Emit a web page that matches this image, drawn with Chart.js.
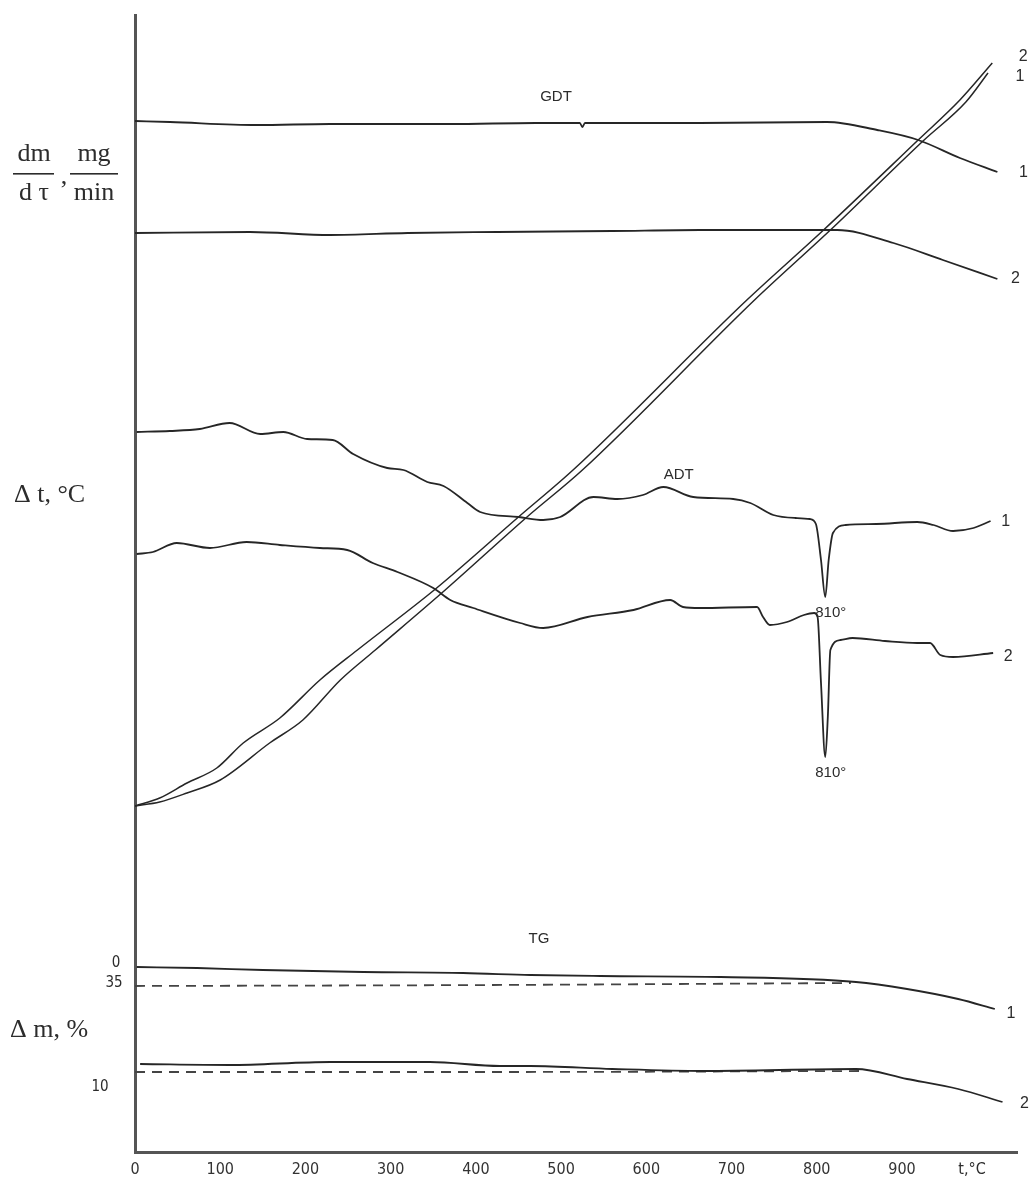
<!DOCTYPE html>
<html>
<head>
<meta charset="utf-8">
<script src="https://cdn.jsdelivr.net/npm/chart.js@4.4.1/dist/chart.umd.min.js"></script>
<style>
html,body{margin:0;padding:0;background:#fff;}
#wrap{position:relative;width:1035px;height:1182px;}
canvas{display:block;}
</style>
</head>
<body>
<div id="wrap"><canvas id="c" width="1035" height="1182"></canvas></div>
<script>
// Derivatogram of samples 1 and 2: heating curves, GDT, ADT and TG traces.
// Temperatures in °C, trace values in relative chart units.
const tickTemps = [0, 100, 200, 300, 400, 500, 600, 700, 800, 900];
const peakTemp = 810;

// heating curves
const heatT1 = [0, 29, 61, 100, 158, 197, 241, 282, 364, 460, 525, 727, 816, 926, 975, 1001];
const heatV1 = [346, 350, 359, 372, 409, 432, 472, 502, 562, 635, 682, 852, 922, 1012, 1050, 1079];
const heatT2 = [0, 29, 61, 96, 127, 170, 217, 261, 354, 450, 514, 718, 808, 919, 968, 1006];
const heatV2 = [346, 354, 369, 384, 409, 434, 472, 502, 564, 635, 682, 852, 922, 1012, 1052, 1089];

// GDT
const gdtT1 = [0, 41, 143, 229, 370, 470, 522, 525, 528, 600, 663, 812, 871, 919, 968, 1012];
const gdtV1 = [1031, 1030, 1027, 1028, 1028, 1029, 1029, 1025, 1029, 1029, 1029, 1030, 1022, 1012, 994, 980];
const gdtT2 = [0, 135, 229, 320, 425, 560, 663, 824, 890, 948, 1012];
const gdtV2 = [919, 920, 917, 919, 920, 921, 922, 922, 909, 892, 873];

// ADT
const adtT1 = [2, 41, 76, 111, 147, 174, 202, 232, 256, 296, 315, 343, 362, 390, 405, 450, 479, 499, 538, 566, 596, 620, 655, 702, 722, 749, 775, 792, 799, 805, peakTemp, 814, 819, 834, 870, 918, 937, 960, 984, 1004];
const adtV1 = [720, 721, 723, 729, 718, 720, 713, 712, 698, 684, 682, 670, 666, 649, 640, 635, 632, 635, 655, 653, 657, 665, 655, 653, 649, 637, 634, 633, 628, 592, 555, 592, 619, 627, 628, 630, 627, 621, 624, 631];
const adtT2 = [2, 21, 49, 88, 131, 170, 217, 249, 279, 308, 350, 370, 397, 452, 479, 531, 585, 628, 643, 663, 730, 737, 745, 765, 785, 797, 801, 805, peakTemp, 813, 816, 828, 842, 880, 918, 933, 945, 960, 1007];
const adtV2 = [598, 600, 609, 604, 610, 607, 604, 602, 589, 580, 564, 552, 544, 529, 524, 535, 542, 552, 545, 544, 545, 535, 527, 530, 537, 539, 535, 469, 395, 435, 502, 512, 514, 511, 509, 509, 497, 495, 499];

// TG (solid) and initial mass level (dashed)
const tgT1 = [2, 73, 150, 268, 385, 464, 546, 687, 846, 906, 966, 1009];
const tgV1 = [185, 184, 182, 180, 179, 177, 176, 175, 170, 163, 153, 143];
const tgRefT1 = [0, 420, 840];
const tgRefV1 = [166, 167, 169];
const tgT2 = [6, 111, 229, 346, 428, 464, 560, 667, 846, 906, 966, 1018];
const tgV2 = [88, 87, 90, 90, 86, 86, 83, 81, 83, 73, 63, 50];
const tgRefT2 = [0, 420, 850];
const tgRefV2 = [80, 80, 81];

const INK = '#262626';
const SANS = '"Liberation Sans", Arial, sans-serif';
const NARROW = '"DejaVu Sans Condensed", "Liberation Sans Narrow", "Liberation Sans", sans-serif';
const SERIF = '"Liberation Serif", "DejaVu Serif", serif';

function series(ts, vs) { return ts.map((t, i) => ({ x: t, y: vs[i] })); }
function trace(id, ts, vs, extra) {
  return Object.assign({
    label: id, data: series(ts, vs), borderColor: INK, borderWidth: 1.8,
    pointRadius: 0, fill: false, cubicInterpolationMode: 'monotone'
  }, extra || {});
}

const datasets = [
  trace('heat1', heatT1, heatV1, { borderWidth: 1.5 }),
  trace('heat2', heatT2, heatV2, { borderWidth: 1.5 }),
  trace('gdt1', gdtT1, gdtV1),
  trace('gdt2', gdtT2, gdtV2),
  trace('adt1', adtT1, adtV1),
  trace('adt2', adtT2, adtV2),
  trace('tg1', tgT1, tgV1),
  trace('tg2', tgT2, tgV2),
  trace('tgRef1', tgRefT1, tgRefV1, { borderDash: [10, 7], borderColor: '#444', borderWidth: 1.8 }),
  trace('tgRef2', tgRefT2, tgRefV2, { borderDash: [10, 7], borderColor: '#444', borderWidth: 1.8 })
];

// curve number next to the last point of a trace: [dataset label, text, dx, dy]
const endTags = [
  ['heat2', '2', 31, -6], ['heat1', '1', 32, 4],
  ['gdt1', '1', 26, 1], ['gdt2', '2', 18, 0],
  ['adt1', '1', 15, 1], ['adt2', '2', 15, 4],
  ['tg1', '1', 16, 5], ['tg2', '2', 22, 2]
];
// section titles placed in data coordinates
const sectionTitles = [['GDT', 494, 1055], ['ADT', 638, 677], ['TG', 474, 213]];
// TG mass scale marks
const massMarks = [['0', 189, -19], ['35', 169, -21], ['10', 65, -35]];

const figureText = {
  id: 'figureText',
  beforeDraw(chart) {
    const c = chart.ctx;
    c.save(); c.fillStyle = '#fff'; c.fillRect(0, 0, chart.width, chart.height); c.restore();
  },
  afterDatasetsDraw(chart) {
    const c = chart.ctx;
    const xs = chart.scales.x, ys = chart.scales.y, area = chart.chartArea;
    c.save();
    c.fillStyle = '#2c2c2c';
    c.textBaseline = 'middle';

    // section titles
    c.font = '15px ' + SANS;
    c.textAlign = 'center';
    sectionTitles.forEach(([s, t, v]) => c.fillText(s, xs.getPixelForValue(t), ys.getPixelForValue(v)));

    // curve numbers
    c.font = '16px ' + SANS;
    endTags.forEach(([id, s, dx, dy]) => {
      const ds = chart.data.datasets.find(d => d.label === id);
      const p = ds.data[ds.data.length - 1];
      c.fillText(s, xs.getPixelForValue(p.x) + dx, ys.getPixelForValue(p.y) + dy);
    });

    // peak temperature labels under the ADT minima
    c.font = '15px ' + SANS;
    c.textAlign = 'left';
    [['adt1', 16], ['adt2', 16]].forEach(([id, dy]) => {
      const ds = chart.data.datasets.find(d => d.label === id);
      const p = ds.data.find(q => q.x === peakTemp);
      c.fillText(peakTemp + '°', xs.getPixelForValue(p.x) - 10, ys.getPixelForValue(p.y) + dy);
    });

    // mass scale marks
    c.font = '15px ' + NARROW;
    c.textAlign = 'center';
    massMarks.forEach(([s, v, dx]) => c.fillText(s, area.left + dx, ys.getPixelForValue(v)));

    // x axis unit
    c.font = '16px ' + NARROW;
    c.fillText('t,°C', area.right - 45, area.bottom + 18);

    // left-hand axis titles
    c.font = '26px ' + SERIF;
    c.textAlign = 'left';
    c.textBaseline = 'alphabetic';
    c.fillText('Δ t, °C', 14, 502);
    c.fillText('Δ m, %', 10, 1037);

    // dm/dτ , mg/min
    c.textAlign = 'center';
    c.fillText('dm', 34, 161);
    c.fillText('d τ', 34, 200);
    c.fillText(',', 64, 184);
    c.fillText('mg', 94, 161);
    c.fillText('min', 94, 200);
    c.fillRect(13, 173, 41, 1.6);
    c.fillRect(70, 173, 48, 1.6);
    c.restore();
  }
};

new Chart(document.getElementById('c'), {
  type: 'line',
  data: { datasets },
  options: {
    responsive: false,
    animation: false,
    events: [],
    layout: { padding: { left: 135, right: 18, top: 15, bottom: 0 } },
    plugins: { legend: { display: false }, tooltip: { enabled: false } },
    scales: {
      x: {
        type: 'linear', min: 0, max: 1035,
        afterBuildTicks: s => { s.ticks = tickTemps.map(v => ({ value: v })); },
        afterFit: s => { s.height = 30; },
        grid: { display: true, drawOnChartArea: false, drawTicks: false, color: 'rgba(0,0,0,0)' },
        border: { display: true, color: '#555', width: 3 },
        ticks: { padding: 8, color: '#333', font: { family: NARROW, size: 16 }, maxRotation: 0, autoSkip: false }
      },
      y: {
        type: 'linear', min: 0, max: 1137,
        afterFit: s => { s.width = 0; },
        grid: { display: true, drawOnChartArea: false, drawTicks: false, color: 'rgba(0,0,0,0)' },
        border: { display: true, color: '#555', width: 3 },
        ticks: { display: false }
      }
    }
  },
  plugins: [figureText]
});
</script>
</body>
</html>
